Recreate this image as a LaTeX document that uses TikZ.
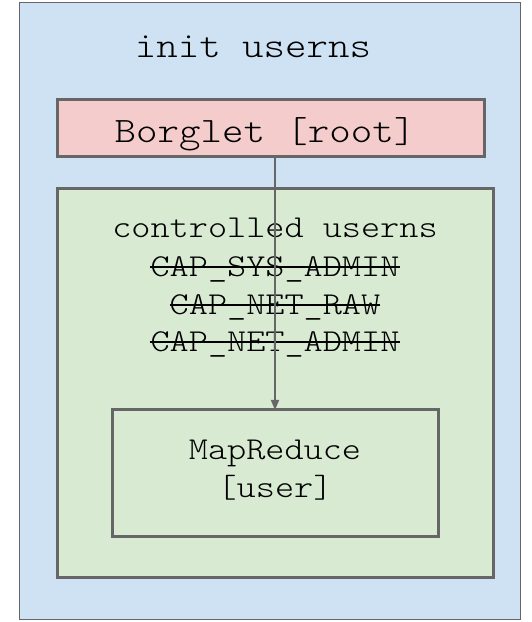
\documentclass[tikz,border=0pt]{standalone}
\usepackage{fontspec}
\newfontfamily\monofam[FakeStretch=1.143]{lmmonolt10-regular.otf}
\usetikzlibrary{arrows.meta,calc}
\definecolor{bordergray}{HTML}{666666}
\definecolor{bluefill}{HTML}{CFE2F3}
\definecolor{redfill}{HTML}{F4CCCC}
\definecolor{greenfill}{HTML}{D9EAD3}
\begin{document}
\begin{tikzpicture}[x=1pt,y=1pt,
  bigtxt/.style={anchor=base,inner sep=0pt,font=\monofam\fontsize{35.8}{38}\selectfont},
  smalltxt/.style={anchor=base,inner sep=0pt,font=\monofam\fontsize{31.9}{38}\selectfont},
  thickbox/.style={draw=bordergray,line width=3pt},
  strike/.style={line width=2pt,black},
  conn/.style={draw=bordergray,line width=1.5pt,-{Triangle[length=10pt,width=8pt]}}]
\useasboundingbox (0,0) rectangle (531,622);
% outer box
\draw[draw=bordergray,fill=bluefill,line width=1pt] (19.5,2.5) rectangle (520.5,619.5);
\node[bigtxt] (title) at (253,564) {init userns};
% Borglet
\draw[thickbox,fill=redfill] (57,465) rectangle (484,522);
\coordinate (borgbottom) at (270.5,465);
\node[bigtxt] (borglet) at (265,479) {Borglet [root]};
% controlled userns
\draw[thickbox,fill=greenfill] (57,44) rectangle (493,433);
\node[smalltxt] (ctl) at (275,384) {controlled userns};
\node[smalltxt] (cap1) at (275,345) {CAP\_SYS\_ADMIN};
\node[smalltxt] (cap2) at (275,307) {CAP\_NET\_RAW};
\node[smalltxt] (cap3) at (275,270) {CAP\_NET\_ADMIN};
\foreach \c in {cap1,cap2,cap3}
  \draw[strike] ($(\c.base west)+(0,10)$) -- ($(\c.base east)+(0,10)$);
% MapReduce
\draw[thickbox,fill=greenfill] (112,85) rectangle (438,212);
\coordinate (mrtop) at (275,212);
\node[smalltxt] (mr1) at (275,162) {MapReduce};
\node[smalltxt] (mr2) at (275,124) {[user]};
% connector
\draw[conn] (mrtop |- borgbottom) -- (mrtop);
\end{tikzpicture}
\end{document}
